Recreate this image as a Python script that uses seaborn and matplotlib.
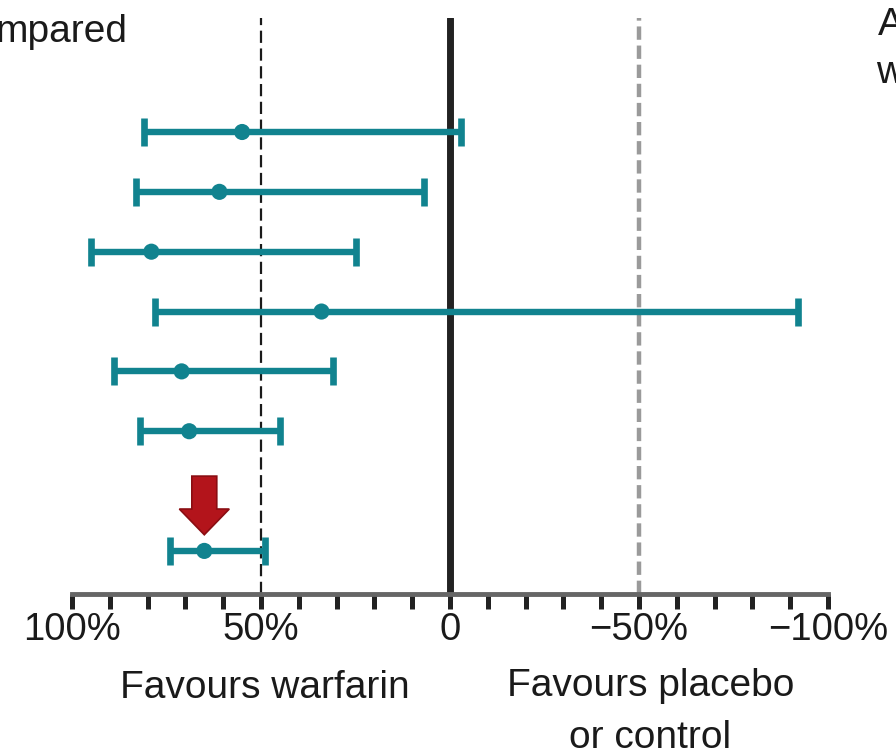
import matplotlib
matplotlib.use("Agg")
import matplotlib.pyplot as plt
import matplotlib.patches as mpatches
import numpy as np
import pandas as pd
import seaborn as sns

# relative risk reduction (%), positive = favours warfarin
study_est = [55, 61, 79, 34, 71, 69]
study_lo = [81, 83, 95, 78, 89, 82]
study_hi = [-3, 7, 25, -92, 31, 45]
pooled_est = [65]
pooled_lo = [74]
pooled_hi = [49]

tick_vals = [100, 50, 0, -50, -100]
tick_labels = ["100%", "50%", "0", "\u221250%", "\u2212100%"]

sns.set_style("white")
plt.rcParams["font.family"] = ["Liberation Sans", "DejaVu Sans"]

teal = "#11838f"

df = pd.DataFrame({
    "est": study_est + pooled_est,
    "lo": study_lo + pooled_lo,
    "hi": study_hi + pooled_hi,
})
# one empty row gap before the pooled estimate
df["row"] = list(np.arange(len(study_est))) + [len(study_est) + 1]

fig = plt.figure(figsize=(8.96, 7.5), dpi=100)
ax = fig.add_axes([72 / 896, 156 / 750, 756 / 896, 576 / 750])

# reference lines
ax.axvline(50, color="#1a1a1a", lw=1.6, ls=(0, (5.5, 2.5)), zorder=1)
ax.axvline(0, color="#222222", lw=5, zorder=1)
ax.axvline(-50, color="#9a9a9a", lw=3.2, ls=(0, (3, 1.3)), zorder=1)

# confidence intervals (x axis is reversed, so hi is the smaller value)
ax.errorbar(df["est"], df["row"],
            xerr=[df["est"] - df["hi"], df["lo"] - df["est"]],
            fmt="none", ecolor=teal, elinewidth=4.6, capsize=10, capthick=4.8,
            zorder=2)
sns.scatterplot(data=df, x="est", y="row", ax=ax, color=teal, s=135,
                edgecolor="none", zorder=3, legend=False)

# arrow pointing at the pooled estimate
p = df.iloc[-1]
arrow = mpatches.FancyArrow(p["est"], p["row"] - 1.25, 0, 0.98,
                            width=6.6, head_width=13.2, head_length=0.43,
                            length_includes_head=True,
                            facecolor="#b3141b", edgecolor="#8a0d12", lw=1.2,
                            zorder=4)
ax.add_patch(arrow)

ax.set_xlim(100, -100)
ax.set_ylim(7.72, -1.905)
ax.set_xlabel("")
ax.set_ylabel("")
ax.set_yticks([])

ax.set_xticks(tick_vals)
ax.set_xticklabels(tick_labels, fontsize=27.5)
ax.set_xticks(np.arange(-100, 101, 10), minor=True)
ax.tick_params(axis="x", which="both", bottom=True, direction="out",
               length=11, width=3.6, color="#222222", pad=2)
ax.tick_params(axis="x", which="major", labelsize=27.5, labelcolor="#1a1a1a")

for side in ["left", "top", "right"]:
    ax.spines[side].set_visible(False)
ax.spines["bottom"].set_color("#666666")
ax.spines["bottom"].set_linewidth(3.5)

tr = ax.get_xaxis_transform()
ax.text(49, -0.181, "Favours warfarin", transform=tr, ha="center",
        va="baseline", fontsize=28, color="#1a1a1a")
ax.text(-53, -0.267, "Favours placebo\nor control", transform=tr,
        ha="center", va="baseline", fontsize=28, color="#1a1a1a",
        linespacing=1.55)

fig.text(127 / 896, 1 - 42 / 750, "mpared", ha="right", va="baseline",
         fontsize=28, color="#1a1a1a")
fig.text(878 / 896, 1 - 35 / 750, "A", ha="left", va="baseline",
         fontsize=28, color="#1a1a1a")
fig.text(876 / 896, 1 - 83 / 750, "w", ha="left", va="baseline",
         fontsize=28, color="#1a1a1a")

fig.savefig("out.png", dpi=100, facecolor="white")
